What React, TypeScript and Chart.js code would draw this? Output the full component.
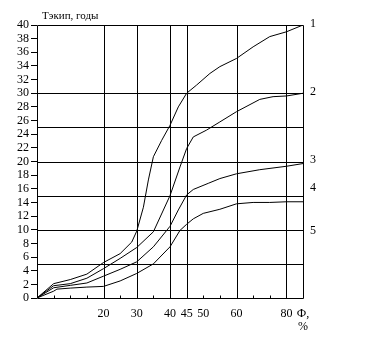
import React, { useEffect, useRef } from "react";
import { Chart, registerables } from "chart.js";

Chart.register(...registerables);

// x positions are axis steps (0..16); labels for each step
const xTickLabels: (string | string[])[] = ["", "", "", "", "20", "", "30", "", "40", "45", "50", "", "60", "", "", "80", ["Ф,", "%"]];
const verticalGridAt = [4, 6, 8, 9, 12, 15];
const horizontalGridAt = [5, 10, 15, 20, 25, 30];

const curve1X = [0, 1, 2, 3, 4, 5, 5.7, 6, 6.4, 6.7, 7, 7.5, 8, 8.5, 9, 9.6, 10.4, 11, 12, 13, 14, 15, 16];
const curve1Y = [0, 2.1, 2.7, 3.5, 5.2, 6.5, 8.2, 9.8, 13.3, 17.3, 20.7, 23.1, 25.3, 28, 30, 31.2, 32.9, 33.9, 35.1, 36.8, 38.3, 39, 40];

const curve2X = [0, 1, 2, 3, 4, 5, 6, 7, 8, 8.6, 9, 9.4, 10.2, 11, 12, 13.4, 14.2, 15, 16];
const curve2Y = [0, 1.8, 2.1, 2.9, 4.3, 5.8, 7.4, 9.7, 15.0, 19.2, 21.9, 23.6, 24.6, 25.8, 27.3, 29.1, 29.5, 29.6, 30];

const curve3X = [0, 1, 2, 3, 4, 5, 6, 7, 8, 8.5, 9, 9.4, 10.3, 11, 12, 13.4, 15, 16];
const curve3Y = [0, 1.5, 1.85, 2.2, 3.2, 4.2, 5.3, 7.5, 10.5, 12.9, 15.1, 15.9, 16.8, 17.5, 18.2, 18.8, 19.3, 19.7];

const curve4X = [0, 1, 1.2, 2, 3, 4, 5, 6, 7, 8, 8.6, 9, 9.4, 10, 11, 12, 13, 14, 15, 16];
const curve4Y = [0, 1.0, 1.3, 1.45, 1.6, 1.7, 2.5, 3.6, 5.0, 7.5, 9.9, 10.8, 11.6, 12.4, 13.0, 13.8, 14.0, 14.0, 14.1, 14.1];

const curveLabelNames = ["1", "2", "3", "4", "5"];
const curveLabelValues = [40.2, 30.2, 20.3, 16.1, 9.8];
const titleText = "Тэкип, годы";

const toPoints = (xs: number[], ys: number[]) => xs.map((x, i) => ({ x, y: ys[i] }));

const framePlugin = {
  id: "framePlugin",
  beforeDatasetsDraw(chart: any) {
    const { ctx, chartArea } = chart;
    const xs = chart.scales.x;
    const ys = chart.scales.y;
    const L = Math.round(chartArea.left) + 0.5;
    const R = Math.round(chartArea.right) + 0.5;
    const T = Math.round(chartArea.top) + 0.5;
    const B = Math.round(chartArea.bottom) + 0.5;
    ctx.save();
    ctx.strokeStyle = "#000";
    ctx.lineWidth = 1;
    ctx.beginPath();
    verticalGridAt.forEach((v) => {
      const p = Math.round(xs.getPixelForValue(v)) + 0.5;
      ctx.moveTo(p, T);
      ctx.lineTo(p, B);
    });
    horizontalGridAt.forEach((v) => {
      const p = Math.round(ys.getPixelForValue(v)) + 0.5;
      ctx.moveTo(L, p);
      ctx.lineTo(R, p);
    });
    // frame
    ctx.moveTo(L, T);
    ctx.lineTo(R, T);
    ctx.lineTo(R, B);
    ctx.lineTo(L, B);
    ctx.lineTo(L, T);
    // small inner tick marks on x axis
    for (let i = 1; i < xTickLabels.length - 1; i++) {
      const p = Math.round(xs.getPixelForValue(i)) + 0.5;
      ctx.moveTo(p, B);
      ctx.lineTo(p, B - 3);
    }
    ctx.stroke();
    ctx.restore();
  },
  afterDraw(chart: any) {
    const { ctx, chartArea } = chart;
    const ys = chart.scales.y;
    ctx.save();
    ctx.fillStyle = "#000";
    ctx.font = "12px 'Liberation Serif'";
    ctx.textAlign = "left";
    ctx.textBaseline = "middle";
    curveLabelNames.forEach((name, i) => {
      ctx.fillText(name, chartArea.right + 7, ys.getPixelForValue(curveLabelValues[i]));
    });
    ctx.font = "11px 'Liberation Serif'";
    ctx.fillText(titleText, chartArea.left + 5, chartArea.top - 9);
    ctx.restore();
  },
};

export default function App() {
  const ref = useRef<HTMLCanvasElement | null>(null);
  useEffect(() => {
    if (!ref.current) return;
    const ds = (xs: number[], ys: number[]) => ({
      data: toPoints(xs, ys),
      borderColor: "#000",
      borderWidth: 1,
      pointRadius: 0,
      tension: 0,
      fill: false,
    });
    const chart = new Chart(ref.current, {
      type: "line",
      data: {
        datasets: [ds(curve1X, curve1Y), ds(curve2X, curve2Y), ds(curve3X, curve3Y), ds(curve4X, curve4Y)],
      },
      options: {
        animation: false,
        responsive: false,
        devicePixelRatio: 1,
        layout: { padding: { left: 0, top: 25, right: 88, bottom: 0 } },
        plugins: { legend: { display: false }, tooltip: { enabled: false } },
        scales: {
          x: {
            type: "linear",
            min: 0,
            max: 16,
            afterFit: (s: any) => {
              s.height = 55;
            },
            afterBuildTicks: (s: any) => {
              s.ticks = xTickLabels.map((_, i) => ({ value: i }));
            },
            ticks: {
              autoSkip: false,
              maxRotation: 0,
              padding: 10,
              color: "#000",
              font: { family: "'Liberation Serif'", size: 12, lineHeight: 1.05 },
              callback: (v: any) => xTickLabels[v] as any,
            },
            grid: { display: false, drawTicks: false },
            border: { display: false },
          },
          y: {
            type: "linear",
            min: 0,
            max: 40,
            afterFit: (s: any) => {
              s.width = 37;
            },
            ticks: {
              stepSize: 2,
              autoSkip: false,
              padding: 2,
              color: "#000",
              font: { family: "'Liberation Serif'", size: 12, lineHeight: 1 },
            },
            grid: { drawOnChartArea: false, drawTicks: true, tickLength: 6, color: "#000" },
            border: { display: false },
          },
        },
      },
      plugins: [framePlugin],
    });
    return () => chart.destroy();
  }, []);
  return (
    <div style={{ position: "absolute", left: 0, top: 0, width: 391, height: 353, background: "#fff" }}>
      <canvas ref={ref} width={391} height={353} style={{ width: 391, height: 353 }} />
    </div>
  );
}
